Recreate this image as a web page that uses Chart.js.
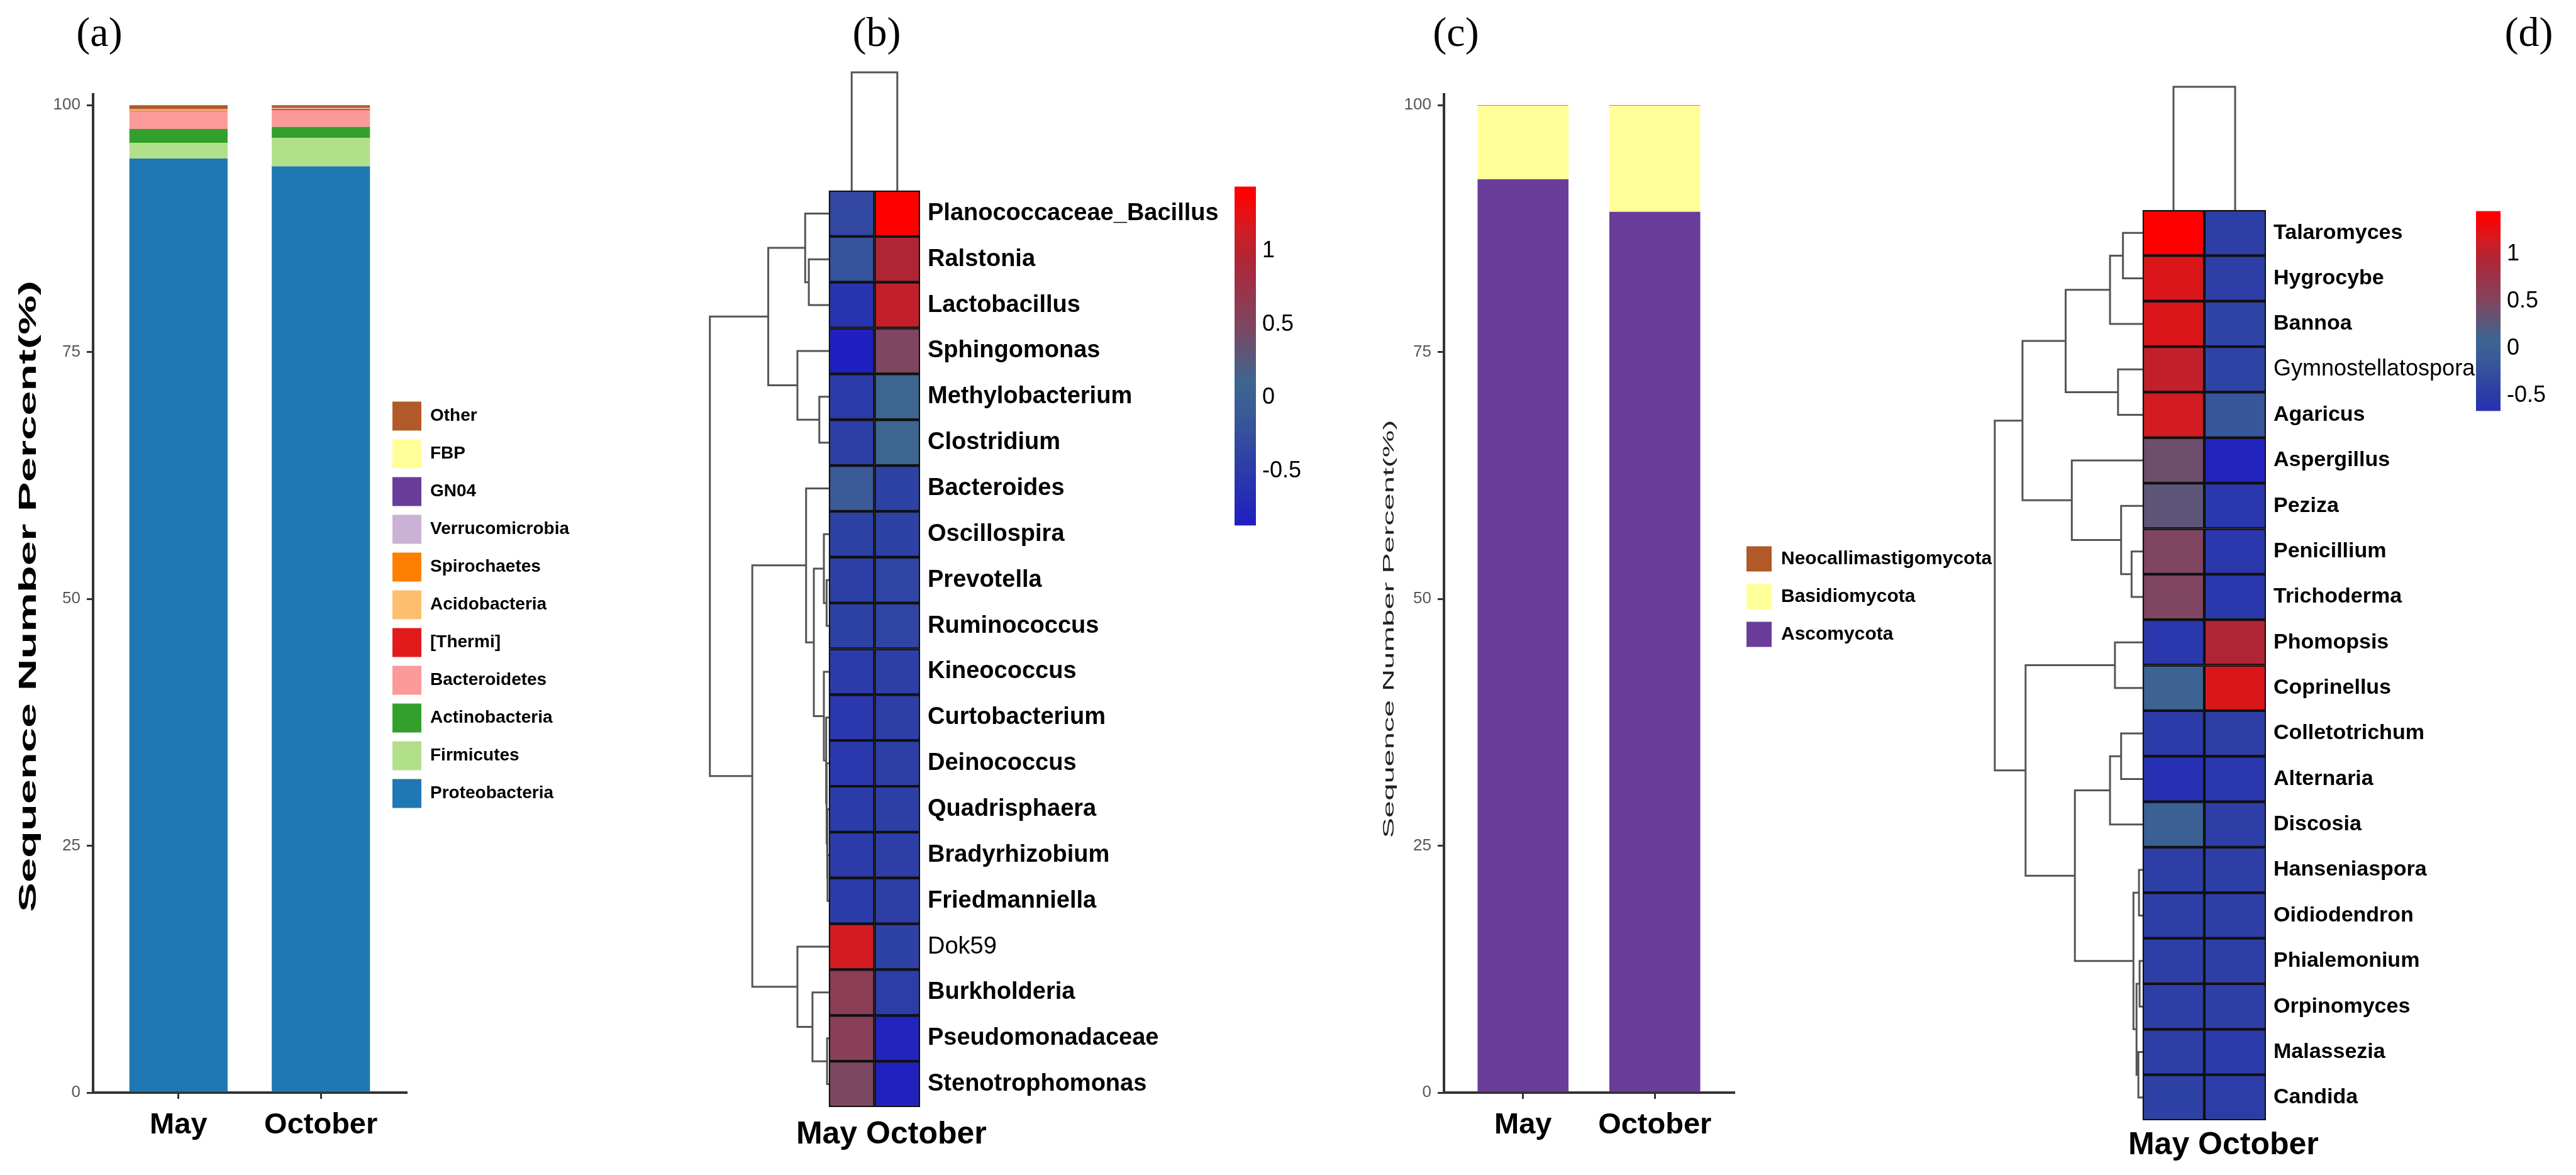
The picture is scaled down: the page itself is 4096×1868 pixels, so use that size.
<!DOCTYPE html>
<html>
<head>
<meta charset="utf-8">
<title>Seasonal community composition</title>
<script src="https://cdn.jsdelivr.net/npm/chart.js@4.4.1/dist/chart.umd.min.js"></script>
<style>
  html, body { margin: 0; background: #fff; }
  #fig { position: relative; width: 4096px; height: 1868px; overflow: hidden; background: #fff; }
  #fig canvas { position: absolute; }
  .tag { position: absolute; top: 18px; font: 66px 'Liberation Serif', 'Times New Roman', serif; line-height: 1; transform: translateX(-50%); }
</style>
</head>
<body>
<div id="fig">
  <div class="tag" style="left:158px">(a)</div>
  <div class="tag" style="left:1394px">(b)</div>
  <div class="tag" style="left:2315px">(c)</div>
  <div class="tag" style="left:4021px">(d)</div>
  <canvas id="barsA" width="1000" height="1868" style="left:0;top:0"></canvas>
  <canvas id="heatB" width="1000" height="1868" style="left:1000px;top:0"></canvas>
  <canvas id="keyB" width="134" height="602" style="left:1963px;top:265px"></canvas>
  <canvas id="barsC" width="1200" height="1868" style="left:2150px;top:0"></canvas>
  <canvas id="heatD" width="996" height="1868" style="left:3100px;top:0"></canvas>
  <canvas id="keyD" width="139" height="381" style="left:3937px;top:304px"></canvas>
</div>
<script>
Chart.defaults.font.family = "'Liberation Sans', Arial, sans-serif";
Chart.defaults.color = '#000';

const months = ['May', 'October'];

// (a) bacterial phyla, from the bottom of each stack upwards
const phyla = ['Proteobacteria', 'Firmicutes', 'Actinobacteria', 'Bacteroidetes', '[Thermi]',
  'Acidobacteria', 'Spirochaetes', 'Verrucomicrobia', 'GN04', 'FBP', 'Other'];
const phylaColors = ['#1f78b4', '#b2df8a', '#33a02c', '#fb9a99', '#e31a1c',
  '#fdbf6f', '#ff7f00', '#cab2d6', '#6a3d9a', '#ffff99', '#b15928'];
const phylaMay = [94.6, 1.6, 1.4, 1.8, 0.05, 0.05, 0.02, 0.02, 0.02, 0.02, 0.42];
const phylaOct = [93.8, 2.9, 1.1, 1.7, 0.1, 0.05, 0.02, 0.02, 0.02, 0.02, 0.27];

// (c) fungal phyla
const fungi = ['Ascomycota', 'Basidiomycota', 'Neocallimastigomycota'];
const fungiColors = ['#6a3d9a', '#ffff99', '#b15928'];
const fungiMay = [92.5, 7.45, 0.05];
const fungiOct = [89.2, 10.75, 0.05];

// (b) bacterial genera, heatmap rows top to bottom
const generaB = ['Planococcaceae_Bacillus', 'Ralstonia', 'Lactobacillus', 'Sphingomonas',
  'Methylobacterium', 'Clostridium', 'Bacteroides', 'Oscillospira', 'Prevotella',
  'Ruminococcus', 'Kineococcus', 'Curtobacterium', 'Deinococcus', 'Quadrisphaera',
  'Bradyrhizobium', 'Friedmanniella', 'Dok59', 'Burkholderia', 'Pseudomonadaceae',
  'Stenotrophomonas'];
const heatMayB = [-0.35, -0.2, -0.6, -0.85, -0.5, -0.45, -0.1, -0.42, -0.45, -0.42,
  -0.5, -0.55, -0.55, -0.5, -0.5, -0.5, 1.15, 0.6, 0.58, 0.48];
const heatOctB = [1.4, 0.95, 1.05, 0.5, 0.1, 0.1, -0.42, -0.42, -0.38, -0.38,
  -0.45, -0.45, -0.45, -0.45, -0.45, -0.45, -0.42, -0.47, -0.8, -0.82];
// row clustering: [left, right, merge height]; plain numbers are row indices
const treeB = [
  [[0, [1, 2, 0.44], 0.52], [3, [4, 5, 0.21], 0.69], 1.33],
  [[6, [[7, [8, 9, 0.05], 0.11], [10, [11, [12, [13, [14, 15, 0.03], 0.04], 0.05], 0.06], 0.11], 0.33], 0.5],
   [16, [17, [18, 19, 0.04], 0.36], 0.69], 1.68],
  2.61];
const colMergeB = 2.58;

// (d) fungal genera
const generaD = ['Talaromyces', 'Hygrocybe', 'Bannoa', 'Gymnostellatospora', 'Agaricus',
  'Aspergillus', 'Peziza', 'Penicillium', 'Trichoderma', 'Phomopsis', 'Coprinellus',
  'Colletotrichum', 'Alternaria', 'Discosia', 'Hanseniaspora', 'Oidiodendron',
  'Phialemonium', 'Orpinomyces', 'Malassezia', 'Candida'];
const heatMayD = [1.4, 1.2, 1.2, 1.05, 1.15, 0.4, 0.3, 0.5, 0.5, -0.55, 0.05,
  -0.5, -0.65, 0.0, -0.45, -0.45, -0.45, -0.45, -0.45, -0.42];
const heatOctD = [-0.45, -0.45, -0.4, -0.4, -0.15, -0.8, -0.55, -0.55, -0.55, 0.95, 1.2,
  -0.45, -0.55, -0.45, -0.45, -0.45, -0.45, -0.45, -0.5, -0.48];
const treeD = [
  [[[[0, 1, 0.32], 2, 0.53], [3, 4, 0.4], 1.25], [5, [6, [7, 8, 0.18], 0.35], 1.15], 1.95],
  [[9, 10, 0.45], [[[11, 12, 0.35], 13, 0.53], [[14, 15, 0.06], [[16, 17, 0.05], [18, 19, 0.07], 0.1], 0.15], 1.1], 1.9],
  2.4];
const colMergeD = 2.71;

const keyTicks = [-0.5, 0, 0.5, 1];
const plainLabels = ['Dok59', 'Gymnostellatospora'];

// colour ramp of the heatmaps (value -> rgb)
const heatStops = [
  [-0.85, [32, 32, 192]], [-0.45, [45, 63, 166]], [-0.1, [58, 90, 152]], [0.1, [60, 102, 144]],
  [0.5, [128, 69, 96]], [0.95, [176, 37, 53]], [1.15, [210, 28, 34]], [1.4, [255, 0, 0]]
];
function heatColor(v) {
  if (v <= heatStops[0][0]) return 'rgb(' + heatStops[0][1].join(',') + ')';
  for (let i = 1; i < heatStops.length; i++) {
    const [v1, c1] = heatStops[i];
    if (v <= v1) {
      const [v0, c0] = heatStops[i - 1];
      const t = (v - v0) / (v1 - v0);
      return 'rgb(' + c0.map((c, k) => Math.round(c + (c1[k] - c) * t)).join(',') + ')';
    }
  }
  return 'rgb(' + heatStops[heatStops.length - 1][1].join(',') + ')';
}

// y axis title drawn stretched along its length, like the original figure
const stretchedTitle = {
  id: 'stretchedTitle',
  afterDraw(chart, args, opts) {
    if (!opts.text) return;
    const ctx = chart.ctx;
    ctx.save();
    ctx.font = opts.font;
    const w = ctx.measureText(opts.text).width;
    ctx.translate(opts.x, opts.y);
    ctx.rotate(-Math.PI / 2);
    ctx.scale(opts.length / w, 1);
    ctx.fillStyle = opts.color;
    ctx.textAlign = 'center';
    ctx.textBaseline = 'middle';
    ctx.fillText(opts.text, 0, 0);
    ctx.restore();
  }
};

// lets the key sit slightly into the panel, as ggplot placed it
const legendShift = {
  id: 'legendShift',
  afterLayout(chart, args, opts) {
    if (!chart.legend) return;
    const dx = opts.dx || 0, dy = opts.dy || 0;
    chart.legend.left += dx;
    chart.legend.right += dx;
    chart.legend.top += dy;
    chart.legend.bottom += dy;
  }
};

function stackedConfig(names, colors, may, oct, o) {
  return {
    type: 'bar',
    data: {
      datasets: names.map((n, i) => ({
        label: n,
        data: [{x: 1, y: may[i]}, {x: 2, y: oct[i]}],
        backgroundColor: colors[i],
        borderWidth: 0,
        barPercentage: 0.69,
        categoryPercentage: 1
      }))
    },
    options: {
      responsive: false, animation: false, devicePixelRatio: 1,
      layout: {padding: {left: 0, top: o.top, right: 0, bottom: 0}},
      scales: {
        x: {
          type: 'linear', min: 0.4, max: 2.6, stacked: true, offset: false,
          afterBuildTicks: s => { s.ticks = months.map((m, i) => ({value: i + 1})); },
          afterFit: s => { s.height = o.xAxisH; },
          ticks: {callback: v => months[v - 1], font: {size: 47, weight: 'bold'}, color: '#000',
                  padding: 14, autoSkip: false, maxRotation: 0},
          grid: {drawOnChartArea: false, offset: false, tickLength: 10, color: '#333', lineWidth: 3},
          border: {color: '#333', width: 4}
        },
        y: {
          min: 0, max: 101.1, stacked: true,
          afterFit: s => { s.width = o.yAxisW; },
          ticks: {stepSize: 25, includeBounds: false, font: {size: 26}, color: '#555', padding: 10},
          grid: {drawOnChartArea: false, tickLength: 10, color: '#333', lineWidth: 3},
          border: {color: '#333', width: 4}
        }
      },
      plugins: {
        legend: {
          position: 'right', reverse: true, fullSize: false, maxWidth: 900,
          labels: {font: {size: o.legendSize, weight: 'bold'}, color: '#000', textAlign: 'left',
                   boxWidth: o.box, boxHeight: o.box, padding: 60 - o.box}
        },
        legendShift: {dx: o.legendDx, dy: o.legendDy},
        tooltip: {enabled: false},
        stretchedTitle: o.title
      }
    },
    plugins: [stretchedTitle, legendShift]
  };
}

function placeNode(node, pts) {
  if (typeof node === 'number') return {y: node, h: 0};
  const [a, b, h] = node;
  const l = placeNode(a, pts), r = placeNode(b, pts);
  pts.push({x: -l.h, y: l.y}, {x: -h, y: l.y}, {x: -h, y: r.y}, {x: -r.h, y: r.y}, {x: null, y: null});
  return {y: (l.y + r.y) / 2, h};
}

function heatmapConfig(rows, may, oct, tree, colMerge, o) {
  const rowLines = [];
  placeNode(tree, rowLines);
  const top = -0.5 - colMerge;
  const colLines = [{x: 0.5, y: -0.5}, {x: 0.5, y: top}, {x: 1.5, y: top}, {x: 1.5, y: -0.5}];
  const cells = (vals, c) => ({
    type: 'bar', indexAxis: 'y', grouped: false,
    data: vals.map((v, i) => ({x: [c, c + 1], y: i})),
    backgroundColor: vals.map(heatColor),
    borderColor: '#111', borderWidth: 2.5, borderSkipped: false,
    barPercentage: 1, categoryPercentage: 1
  });
  const lines = pts => ({
    type: 'line', data: pts, borderColor: '#555', borderWidth: 3,
    pointRadius: 0, fill: false, tension: 0, clip: 8, spanGaps: false
  });
  return {
    type: 'bar',
    data: {datasets: [cells(may, 0), cells(oct, 1), lines(rowLines), lines(colLines)]},
    options: {
      responsive: false, animation: false, devicePixelRatio: 1,
      layout: {padding: {left: o.padLeft, top: o.padTop, right: 0, bottom: 0}},
      scales: {
        x: {
          type: 'linear', min: -o.dendroW, max: 2, offset: false,
          afterBuildTicks: s => { s.ticks = [{value: o.labelAt}]; },
          afterFit: s => { s.height = o.xAxisH; },
          ticks: {callback: () => months.join(' '), font: {size: 50, weight: 'bold'}, color: '#000',
                  padding: o.labelPad, autoSkip: false, maxRotation: 0},
          grid: {display: false, drawTicks: false}, border: {display: false}
        },
        y: {
          type: 'linear', position: 'right', reverse: true, offset: false,
          min: top, max: rows.length - 0.5,
          afterBuildTicks: s => { s.ticks = rows.map((r, i) => ({value: i})); },
          afterFit: s => { s.width = o.yAxisW; },
          ticks: {
            callback: v => rows[v], color: '#000', padding: 12, autoSkip: false,
            font: c => plainLabels.includes(rows[c.index])
              ? {size: o.plainSize, weight: 'normal'}
              : {size: o.labelSize, weight: 'bold'}
          },
          grid: {display: false, drawTicks: false}, border: {display: false}
        }
      },
      plugins: {legend: {display: false}, tooltip: {enabled: false}}
    }
  };
}

function keyConfig(lo, hi) {
  return {
    type: 'bar',
    data: {
      labels: [''],
      datasets: [{
        data: [[lo, hi]],
        borderWidth: 0, barPercentage: 1, categoryPercentage: 1,
        backgroundColor: c => {
          const chart = c.chart, y = chart.scales.y;
          if (!chart.chartArea || !y) return heatColor(0);
          const p0 = y.getPixelForValue(lo), p1 = y.getPixelForValue(hi);
          if (!isFinite(p0) || !isFinite(p1)) return heatColor(0);
          const g = chart.ctx.createLinearGradient(0, p0, 0, p1);
          g.addColorStop(0, heatColor(lo));
          heatStops.forEach(([v]) => {
            const t = (v - lo) / (hi - lo);
            if (t > 0 && t < 1) g.addColorStop(t, heatColor(v));
          });
          g.addColorStop(1, heatColor(hi));
          return g;
        }
      }]
    },
    options: {
      responsive: false, animation: false, devicePixelRatio: 1,
      layout: {padding: {top: 30, bottom: 30, left: 0, right: 0}},
      scales: {
        x: {display: false},
        y: {
          position: 'right', min: lo, max: hi,
          afterBuildTicks: s => { s.ticks = keyTicks.map(v => ({value: v})); },
          afterFit: s => { s.width = 100; },
          ticks: {callback: v => String(v), font: {size: 36}, color: '#000', padding: 10},
          grid: {display: false, drawTicks: false}, border: {display: false}
        }
      },
      plugins: {legend: {display: false}, tooltip: {enabled: false}}
    }
  };
}

function pinRight(chart, right) {
  chart.config.options.layout.padding.right += chart.chartArea.right - right;
  chart.update();
}

const chartA = new Chart(document.getElementById('barsA'), stackedConfig(phyla, phylaColors, phylaMay, phylaOct, {
  top: 150, xAxisH: 131, yAxisW: 148, legendSize: 28, box: 46, legendDx: -36, legendDy: 18,
  title: {text: 'Sequence Number Percent(%)', font: "bold 38px 'Liberation Sans', Arial, sans-serif",
          color: '#000', x: 47, y: 948, length: 1004}
}));
pinRight(chartA, 646);

const chartC = new Chart(document.getElementById('barsC'), stackedConfig(fungi, fungiColors, fungiMay, fungiOct, {
  top: 150, xAxisH: 131, yAxisW: 146, legendSize: 30, box: 40, legendDx: 0, legendDy: 5,
  title: {text: 'Sequence Number Percent(%)', font: "24px 'Liberation Sans', Arial, sans-serif",
          color: '#222', x: 59, y: 1000, length: 665}
}));
pinRight(chartC, 607);

new Chart(document.getElementById('heatB'), heatmapConfig(generaB, heatMayB, heatOctB, treeB, colMergeB, {
  padLeft: 118.6, padTop: 115, xAxisH: 108, yAxisW: 537, dendroW: 2.75,
  labelAt: 1.37, labelPad: 14, labelSize: 38, plainSize: 38
}));
new Chart(document.getElementById('keyB'), keyConfig(-0.87, 1.44));

new Chart(document.getElementById('heatD'), heatmapConfig(generaD, heatMayD, heatOctD, treeD, colMergeD, {
  padLeft: 62, padTop: 138, xAxisH: 87, yAxisW: 493, dendroW: 2.5,
  labelAt: 1.31, labelPad: 10, labelSize: 34, plainSize: 36
}));
new Chart(document.getElementById('keyD'), keyConfig(-0.66, 1.46));
</script>
</body>
</html>
